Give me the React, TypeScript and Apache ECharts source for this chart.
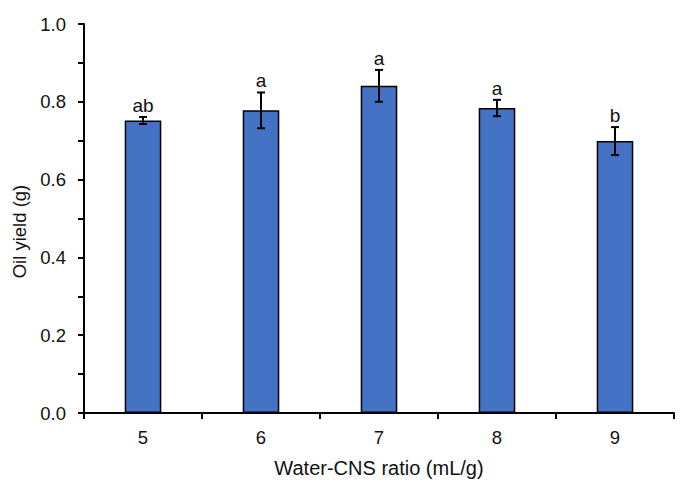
import React, { useEffect, useRef } from "react";
import * as echarts from "echarts";

// Water-to-CNS ratio categories (mL/g)
const ratios = ["5", "6", "7", "8", "9"];
// Mean oil yield (g)
const oilYield = [0.752, 0.778, 0.841, 0.784, 0.699];
// Standard deviation for error bars (g)
const oilError = [0.009, 0.046, 0.041, 0.021, 0.036];
// Significance letters
const groupLetters = ["ab", "a", "a", "a", "b"];

const FONT = "Liberation Sans, Arial, sans-serif";

export default function App() {
  const ref = useRef<HTMLDivElement>(null);

  useEffect(() => {
    if (!ref.current) return;
    const chart = echarts.init(ref.current, undefined, { renderer: "svg" });

    const errData = ratios.map((_, i) => [
      i,
      oilYield[i] - oilError[i],
      oilYield[i] + oilError[i],
      groupLetters[i],
    ]);

    chart.setOption({
      animation: false,
      backgroundColor: "#ffffff",
      grid: { left: 84, right: 12, top: 24, bottom: 68 },
      xAxis: {
        type: "category",
        data: ratios,
        name: "Water-CNS ratio (mL/g)",
        nameLocation: "middle",
        nameGap: 45,
        nameTextStyle: { fontFamily: FONT, fontSize: 20, color: "#111" },
        axisLine: { lineStyle: { color: "#000", width: 2 } },
        axisTick: { show: true, length: 6, lineStyle: { color: "#000", width: 2 } },
        axisLabel: { fontFamily: FONT, fontSize: 18.5, color: "#111", margin: 15 },
      },
      yAxis: {
        type: "value",
        min: 0,
        max: 1,
        interval: 0.2,
        name: "Oil yield (g)",
        nameLocation: "middle",
        nameGap: 55,
        nameRotate: 90,
        nameTextStyle: {
          fontFamily: FONT,
          fontSize: 18.5,
          color: "#111",
          padding: [0, 26, 0, 0],
        },
        axisLine: { show: true, lineStyle: { color: "#000", width: 2 } },
        axisTick: { show: true, inside: false, length: 6, lineStyle: { color: "#000", width: 2 } },
        minorTick: { show: true, splitNumber: 2, length: 6, lineStyle: { color: "#000", width: 2 } },
        axisLabel: {
          fontFamily: FONT,
          fontSize: 18.5,
          color: "#111",
          margin: 18,
          formatter: (v: number) => v.toFixed(1),
        },
        splitLine: { show: false },
      },
      series: [
        {
          type: "bar",
          data: oilYield,
          barWidth: "31%",
          itemStyle: { color: "#4472C4", borderColor: "#000", borderWidth: 1.5 },
        },
        {
          type: "custom",
          data: errData,
          z: 10,
          renderItem: (params: any, api: any) => {
            const x = api.value(0);
            const lo = api.coord([x, api.value(1)]);
            const hi = api.coord([x, api.value(2)]);
            const cap = 4;
            const style = { stroke: "#000", lineWidth: 2 };
            return {
              type: "group",
              children: [
                { type: "line", shape: { x1: lo[0], y1: lo[1], x2: hi[0], y2: hi[1] }, style },
                { type: "line", shape: { x1: hi[0] - cap, y1: hi[1], x2: hi[0] + cap, y2: hi[1] }, style },
                { type: "line", shape: { x1: lo[0] - cap, y1: lo[1], x2: lo[0] + cap, y2: lo[1] }, style },
                {
                  type: "text",
                  x: hi[0],
                  y: hi[1] - 2,
                  style: {
                    text: String(api.value(3)),
                    fontFamily: FONT,
                    fontSize: 19,
                    fill: "#111",
                    textAlign: "center",
                    textVerticalAlign: "bottom",
                  },
                },
              ],
            };
          },
        },
      ],
    });

    return () => chart.dispose();
  }, []);

  return (
    <div
      ref={ref}
      style={{ position: "absolute", left: 0, top: 0, width: 686, height: 483 }}
    />
  );
}
